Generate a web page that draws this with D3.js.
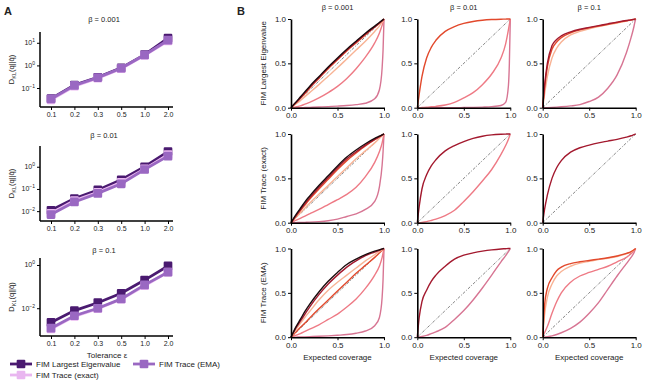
<!DOCTYPE html>
<html>
<head>
<meta charset="utf-8">
<script src="https://cdn.jsdelivr.net/npm/d3@7"></script>
<style>
  body { margin: 0; background: #fff; }
  text { font-family: "Liberation Sans", Arial, sans-serif; fill: #222; }
</style>
</head>
<body>
<svg width="664" height="387" id="mainsvg"></svg>
<script>
// ---------- data ----------
const tolerances = ["0.1", "0.2", "0.3", "0.5", "1.0", "2.0"];
const betas = ["0.001", "0.01", "0.1"];
const methods = ["FIM Largest Eigenvalue", "FIM Trace (exact)", "FIM Trace (EMA)"];

// panel A: KL divergence per beta, per tolerance
const klEig   = [[0.034, 0.135, 0.30, 0.78, 3.0, 16],
                 [0.011, 0.037, 0.09, 0.26, 1.0, 4.8],
                 [0.0022, 0.0078, 0.018, 0.049, 0.20, 0.90]];
const klExact = [[0.030, 0.12, 0.27, 0.72, 2.8, 12],
                 [0.008, 0.030, 0.07, 0.20, 0.80, 3.5],
                 [0.0011, 0.0042, 0.0095, 0.026, 0.11, 0.47]];
const klEma   = [[0.033, 0.13, 0.29, 0.75, 2.9, 13],
                 [0.007, 0.026, 0.063, 0.17, 0.75, 3.0],
                 [0.0012, 0.0045, 0.010, 0.027, 0.12, 0.46]];

// panel B: coverage curves, x grid shared; each entry = [tolerance index, values]
const covX = [0, 0.02, 0.05, 0.1, 0.15, 0.2, 0.3, 0.4, 0.5, 0.6, 0.7, 0.8, 0.9, 0.95, 0.98, 0.99, 1];

const covEigB1 = [
  [5, [0, 0, 0, 0, 0.002, 0.004, 0.008, 0.012, 0.018, 0.025, 0.035, 0.05, 0.1, 0.2, 0.45, 0.65, 1]],
  [4, [0, 0.003, 0.008, 0.02, 0.04, 0.06, 0.11, 0.17, 0.24, 0.33, 0.44, 0.57, 0.73, 0.84, 0.93, 0.96, 1]],
  [3, [0, 0.015, 0.04, 0.08, 0.125, 0.17, 0.26, 0.355, 0.45, 0.55, 0.65, 0.75, 0.86, 0.92, 0.965, 0.98, 1]],
  [2, [0, 0.02, 0.05, 0.105, 0.16, 0.22, 0.33, 0.44, 0.54, 0.64, 0.73, 0.82, 0.91, 0.95, 0.98, 0.99, 1]],
  [1, [0, 0.022, 0.055, 0.11, 0.17, 0.23, 0.34, 0.45, 0.55, 0.65, 0.74, 0.83, 0.91, 0.955, 0.98, 0.99, 1]],
  [0, [0, 0.025, 0.06, 0.12, 0.18, 0.24, 0.35, 0.46, 0.56, 0.66, 0.75, 0.84, 0.92, 0.96, 0.985, 0.993, 1]]
];
const covEigB2 = [
  [5, [0, 0, 0, 0, 0, 0, 0, 0, 0.002, 0.004, 0.007, 0.012, 0.025, 0.06, 0.25, 0.5, 1]],
  [4, [0, 0, 0.002, 0.005, 0.01, 0.015, 0.03, 0.06, 0.11, 0.17, 0.26, 0.38, 0.56, 0.72, 0.88, 0.94, 1]],
  [2, [0, 0.15, 0.35, 0.56, 0.68, 0.76, 0.86, 0.915, 0.95, 0.972, 0.986, 0.994, 0.998, 0.999, 1, 1, 1]]
];
const covEigB3 = [
  [5, [0, 0, 0.001, 0.003, 0.006, 0.01, 0.02, 0.035, 0.07, 0.12, 0.22, 0.37, 0.62, 0.79, 0.91, 0.96, 1]],
  [3, [0, 0.15, 0.35, 0.56, 0.67, 0.74, 0.82, 0.86, 0.89, 0.915, 0.935, 0.955, 0.978, 0.988, 0.995, 0.998, 1]],
  [2, [0, 0.22, 0.46, 0.66, 0.74, 0.79, 0.845, 0.878, 0.9, 0.92, 0.94, 0.96, 0.98, 0.99, 0.996, 0.998, 1]],
  [1, [0, 0.25, 0.5, 0.7, 0.77, 0.81, 0.855, 0.885, 0.905, 0.925, 0.945, 0.965, 0.983, 0.99, 0.996, 0.998, 1]]
];
const covExactB1 = [
  [5, [0, 0, 0.001, 0.002, 0.004, 0.006, 0.012, 0.022, 0.04, 0.07, 0.1, 0.15, 0.24, 0.4, 0.65, 0.8, 1]],
  [4, [0, 0.01, 0.025, 0.05, 0.075, 0.1, 0.15, 0.205, 0.26, 0.32, 0.4, 0.52, 0.68, 0.8, 0.9, 0.95, 1]],
  [3, [0, 0.022, 0.055, 0.11, 0.165, 0.22, 0.32, 0.42, 0.52, 0.62, 0.72, 0.81, 0.9, 0.95, 0.98, 0.99, 1]],
  [2, [0, 0.027, 0.068, 0.135, 0.2, 0.265, 0.38, 0.49, 0.6, 0.7, 0.785, 0.865, 0.935, 0.967, 0.987, 0.994, 1]],
  [1, [0, 0.03, 0.075, 0.145, 0.215, 0.28, 0.4, 0.51, 0.62, 0.72, 0.8, 0.875, 0.94, 0.97, 0.99, 0.995, 1]],
  [0, [0, 0.035, 0.085, 0.16, 0.235, 0.3, 0.42, 0.53, 0.64, 0.74, 0.82, 0.89, 0.95, 0.975, 0.99, 0.995, 1]]
];
const covExactB2 = [
  [4, [0, 0.001, 0.004, 0.012, 0.025, 0.04, 0.08, 0.14, 0.24, 0.35, 0.47, 0.6, 0.77, 0.87, 0.94, 0.97, 1]],
  [1, [0, 0.18, 0.38, 0.54, 0.64, 0.71, 0.81, 0.87, 0.915, 0.95, 0.975, 0.99, 0.997, 0.999, 1, 1, 1]]
];
const covExactB3 = [
  [1, [0, 0.15, 0.31, 0.5, 0.62, 0.7, 0.795, 0.845, 0.875, 0.9, 0.92, 0.94, 0.965, 0.98, 0.992, 0.996, 1]]
];
const covEmaB1 = [
  [5, [0, 0, 0.001, 0.002, 0.004, 0.006, 0.01, 0.015, 0.022, 0.03, 0.045, 0.07, 0.13, 0.22, 0.45, 0.65, 1]],
  [4, [0, 0.008, 0.02, 0.04, 0.065, 0.09, 0.14, 0.2, 0.26, 0.34, 0.43, 0.55, 0.7, 0.8, 0.9, 0.95, 1]],
  [2, [0, 0.022, 0.055, 0.11, 0.16, 0.215, 0.32, 0.42, 0.52, 0.62, 0.72, 0.81, 0.9, 0.95, 0.98, 0.99, 1]],
  [3, [0, 0.032, 0.08, 0.155, 0.225, 0.29, 0.42, 0.53, 0.62, 0.7, 0.78, 0.86, 0.93, 0.965, 0.985, 0.993, 1]],
  [1, [0, 0.04, 0.1, 0.18, 0.26, 0.34, 0.48, 0.6, 0.7, 0.79, 0.86, 0.92, 0.96, 0.98, 0.993, 0.997, 1]],
  [0, [0, 0.045, 0.11, 0.2, 0.29, 0.37, 0.51, 0.63, 0.73, 0.82, 0.88, 0.93, 0.97, 0.985, 0.995, 0.998, 1]]
];
const covEmaB2 = [
  [5, [0, 0.003, 0.008, 0.02, 0.04, 0.06, 0.11, 0.2, 0.3, 0.42, 0.555, 0.7, 0.85, 0.92, 0.965, 0.982, 1]],
  [1, [0, 0.22, 0.4, 0.53, 0.63, 0.7, 0.8, 0.88, 0.925, 0.95, 0.97, 0.985, 0.995, 0.998, 1, 1, 1]]
];
const covEmaB3 = [
  [5, [0, 0.002, 0.006, 0.015, 0.03, 0.05, 0.1, 0.17, 0.27, 0.39, 0.54, 0.69, 0.83, 0.9, 0.95, 0.975, 1]],
  [4, [0, 0.05, 0.12, 0.27, 0.4, 0.5, 0.62, 0.69, 0.73, 0.765, 0.8, 0.85, 0.9, 0.94, 0.975, 0.988, 1]],
  [3, [0, 0.25, 0.45, 0.6, 0.69, 0.74, 0.8, 0.835, 0.855, 0.875, 0.89, 0.91, 0.94, 0.96, 0.982, 0.99, 1]],
  [2, [0, 0.36, 0.55, 0.67, 0.75, 0.79, 0.83, 0.85, 0.865, 0.88, 0.895, 0.915, 0.945, 0.965, 0.985, 0.99, 1]]
];

// ---------- styles ----------
const methodColors = ["#4a1a70", "#e9b6f0", "#9a68c2"];
const tolColors = ["#1c0b0e", "#a3192e", "#e2492c", "#f8b395", "#ee7a85", "#d77593"];

const main_svg = d3.select("#mainsvg");

// panel letters
main_svg.append("text").attr("x", 4).attr("y", 15).attr("font-size", 11).attr("font-weight", "bold").text("A");
main_svg.append("text").attr("x", 237).attr("y", 15).attr("font-size", 11).attr("font-weight", "bold").text("B");

// ---------- panel A ----------
const aX = d3.scalePoint().domain(tolerances).range([51, 168]);
const aLayout = [
  {top: 32, bottom: 107, dom: [0.0145, 30], ticks: [0.1, 1, 10], title: 22},
  {top: 146, bottom: 221, dom: [0.0036, 8.6], ticks: [0.01, 0.1, 1], title: 138},
  {top: 258, bottom: 336, dom: [0.00052, 2.1], ticks: [0.01, 1], title: 253}
];
const klAll = [klEig, klExact, klEma];

aLayout.forEach((L, bi) => {
  const g = main_svg.append("g");
  const y = d3.scaleLog().domain(L.dom).range([L.bottom, L.top]);

  g.append("text").attr("x", 104).attr("y", L.title).attr("text-anchor", "middle")
    .attr("font-size", 7.5).text("β = " + betas[bi]);

  // axes lines
  g.append("line").attr("x1", 40).attr("x2", 40).attr("y1", L.top).attr("y2", L.bottom)
    .attr("stroke", "#000").attr("stroke-width", 1.5);
  g.append("line").attr("x1", 40).attr("x2", 173).attr("y1", L.bottom).attr("y2", L.bottom)
    .attr("stroke", "#000").attr("stroke-width", 1.5);

  const xAxis = g.append("g").attr("transform", `translate(0,${L.bottom})`)
    .call(d3.axisBottom(aX).tickSize(3).tickPadding(2));
  xAxis.select(".domain").remove();
  xAxis.selectAll("text").attr("font-size", 7).attr("fill", "#222");

  const yAxis = g.append("g").attr("transform", "translate(40,0)")
    .call(d3.axisLeft(y).tickValues(L.ticks).tickSize(3).tickFormat(""));
  yAxis.select(".domain").remove();
  L.ticks.forEach(t => {
    const e = Math.round(Math.log10(t));
    const txt = g.append("text").attr("x", 35).attr("y", y(t) + 2.5)
      .attr("text-anchor", "end").attr("font-size", 7);
    txt.append("tspan").text("10");
    txt.append("tspan").attr("dy", -3).attr("font-size", 5).text(e === 0 ? "0" : (e < 0 ? "\u2212" + (-e) : e));
  });

  // y label
  const lab = g.append("text").attr("transform", `translate(14,${(L.top + L.bottom) / 2}) rotate(-90)`)
    .attr("text-anchor", "middle").attr("font-size", 7.5);
  lab.append("tspan").text("D");
  lab.append("tspan").attr("dy", 2).attr("font-size", 5.5).text("KL");
  lab.append("tspan").attr("dy", -2).text("(q||q\u0302)");

  const line = d3.line().x((d, i) => aX(tolerances[i])).y(d => y(d));
  klAll.forEach((series, mi) => {
    const vals = series[bi];
    g.append("path").attr("d", line(vals)).attr("fill", "none")
      .attr("stroke", methodColors[mi]).attr("stroke-width", 2.8);
    g.selectAll(null).data(vals).enter().append("path")
      .attr("d", d3.symbol().type(d3.symbolSquare).size(42))
      .attr("transform", (d, i) => `translate(${aX(tolerances[i])},${y(d)})`)
      .attr("fill", methodColors[mi]).attr("stroke", methodColors[mi])
      .attr("stroke-width", 2.2).attr("stroke-linejoin", "round");
  });

  if (bi === 2) {
    g.append("text").attr("x", 107).attr("y", 358).attr("text-anchor", "middle")
      .attr("font-size", 8).text("Tolerance ε");
  }
});

// legend for panel A
const legendItems = [
  {m: 0, x: 10, y: 364},
  {m: 2, x: 133, y: 364},
  {m: 1, x: 10, y: 375}
];
legendItems.forEach(d => {
  const g = main_svg.append("g");
  g.append("line").attr("x1", d.x).attr("x2", d.x + 22).attr("y1", d.y).attr("y2", d.y)
    .attr("stroke", methodColors[d.m]).attr("stroke-width", 2.8);
  g.append("path").attr("d", d3.symbol().type(d3.symbolSquare).size(42))
    .attr("transform", `translate(${d.x + 11},${d.y})`)
    .attr("fill", methodColors[d.m]).attr("stroke", methodColors[d.m])
    .attr("stroke-width", 2.2).attr("stroke-linejoin", "round");
  g.append("text").attr("x", d.x + 26).attr("y", d.y + 3).attr("font-size", 8).text(methods[d.m]);
});

// ---------- panel B ----------
const colX = [291, 417.3, 542.7];
const rowY = [19, 134, 248.5];
const pw = 93, ph = 88.7;
const covPanels = [
  [covEigB1, covEigB2, covEigB3],
  [covExactB1, covExactB2, covExactB3],
  [covEmaB1, covEmaB2, covEmaB3]
];
const rowLabels = ["FIM Largest Eigenvalue", "FIM Trace (exact)", "FIM Trace (EMA)"];

covPanels.forEach((row, ri) => {
  main_svg.append("text")
    .attr("transform", `translate(266,${rowY[ri] + ph / 2}) rotate(-90)`)
    .attr("text-anchor", "middle").attr("font-size", 8).text(rowLabels[ri]);

  row.forEach((curves, ci) => {
    const g = main_svg.append("g");
    const x = d3.scaleLinear().domain([0, 1]).range([colX[ci], colX[ci] + pw]);
    const y = d3.scaleLinear().domain([0, 1]).range([rowY[ri] + ph, rowY[ri]]);

    if (ri === 0) {
      g.append("text").attr("x", colX[ci] + pw / 2).attr("y", 10).attr("text-anchor", "middle")
        .attr("font-size", 7.5).text("β = " + betas[ci]);
    }

    // diagonal reference
    g.append("line").attr("x1", x(0)).attr("y1", y(0)).attr("x2", x(1)).attr("y2", y(1))
      .attr("stroke", "#333").attr("stroke-width", 0.6).attr("stroke-dasharray", "3,1.5,1,1.5");

    const line = d3.line().x((d, i) => x(covX[i])).y(d => y(d)).curve(d3.curveMonotoneX);
    curves.forEach(c => {
      g.append("path").attr("d", line(c[1])).attr("fill", "none")
        .attr("stroke", tolColors[c[0]]).attr("stroke-width", 1.4);
    });

    const xa = g.append("g").attr("transform", `translate(0,${rowY[ri] + ph})`)
      .call(d3.axisBottom(x).tickValues([0, 0.5, 1]).tickFormat(d3.format(".1f")).tickSize(3).tickSizeOuter(0).tickPadding(2));
    const ya = g.append("g").attr("transform", `translate(${colX[ci]},0)`)
      .call(d3.axisLeft(y).tickValues([0, 0.5, 1]).tickFormat(d3.format(".1f")).tickSize(3).tickSizeOuter(0).tickPadding(2));
    [xa, ya].forEach(a => {
      a.select(".domain").attr("stroke", "#000").attr("stroke-width", 1.6);
      a.selectAll(".tick line").attr("stroke", "#000").attr("stroke-width", 1);
      a.selectAll("text").attr("font-size", 8).attr("fill", "#222");
    });

    if (ri === 2) {
      g.append("text").attr("x", colX[ci] + pw / 2).attr("y", 360).attr("text-anchor", "middle")
        .attr("font-size", 8).text("Expected coverage");
    }
  });
});
</script>
</body>
</html>
